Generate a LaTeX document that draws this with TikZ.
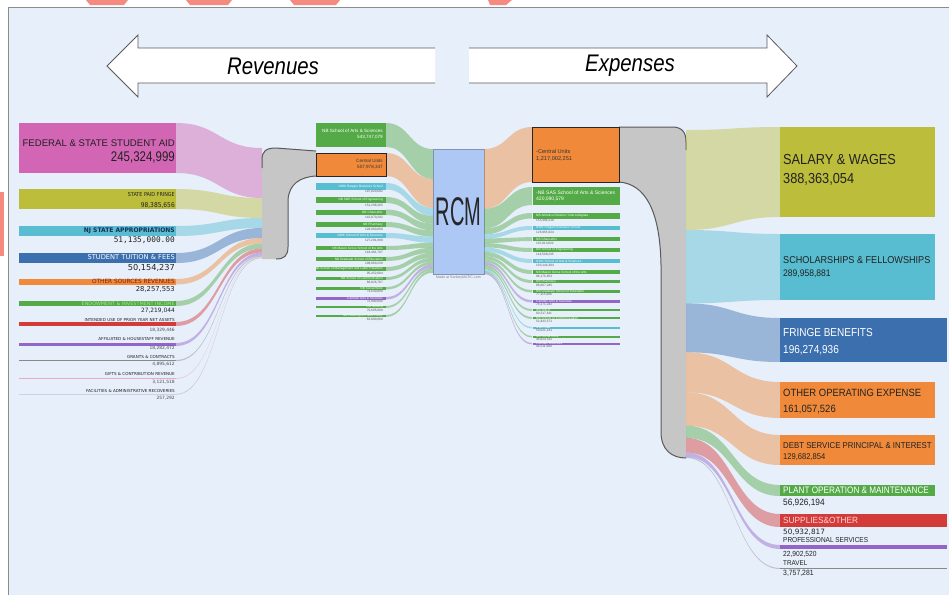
\documentclass[tikz,border=0pt]{standalone}
\usepackage{fontspec}
\setmainfont{Liberation Sans}
\newfontfamily\dejavu{DejaVu Sans}
\newfontfamily\dejavumono{DejaVu Sans Mono}
\newcommand{\myfs}[1]{\fontsize{#1}{#1}\selectfont}
% flow band: x1, y1top, y1bot, x2, y2top, y2bot, colour
\newcommand{\sflow}[7]{\fill[#7, fill opacity=.45] (#1,#2) .. controls ({(#1+#4)/2},#2) and ({(#1+#4)/2},#5) .. (#4,#5) -- (#4,#6) .. controls ({(#1+#4)/2},#6) and ({(#1+#4)/2},#3) .. (#1,#3) -- cycle;}
\definecolor{panel}{HTML}{E7EFFB}
\definecolor{cmag}{HTML}{D265B4}
\definecolor{colive}{HTML}{BDBD3C}
\definecolor{cteal}{HTML}{58BDD0}
\definecolor{cblue}{HTML}{3B6FAE}
\definecolor{corange}{HTML}{F08A3A}
\definecolor{cgreen}{HTML}{54AA47}
\definecolor{cred}{HTML}{D23B37}
\definecolor{cpurple}{HTML}{9365C8}
\definecolor{cgrey}{HTML}{8A8A8A}
\definecolor{cpink}{HTML}{E7A9CB}
\definecolor{cfaint}{HTML}{C9D3E6}
\definecolor{gnode}{HTML}{C6C6C6}
\definecolor{gedge}{HTML}{5A5A5A}
\definecolor{rcmfill}{HTML}{AEC8F5}
\definecolor{rcmedge}{HTML}{7F93B3}
\definecolor{wmark}{HTML}{F58A80}
\definecolor{darktxt}{HTML}{222222}
\begin{document}
\begin{tikzpicture}[x=1pt,y=-1pt,
  lbl/.style={inner sep=0pt, text=darktxt},
  bigarrow/.style={draw=gedge, line width=0.8pt, line join=miter},
  tinyw/.style={inner sep=0pt, text=white, font=\myfs{3.2}},
  tinyd/.style={inner sep=0pt, text=black!65, font=\myfs{3.2}}]
\useasboundingbox (0,0) rectangle (949,595);
% background panel
\fill[white] (0,0) rectangle (949,595);
\fill[panel] (8,7) rectangle (949,595);
\draw[black!45, line width=0.8pt] (8,595) -- (8,7) -- (949,7);
% stray marks at the edges
\fill[wmark] (86,0) -- (128,0) -- (124,5) -- (90,5) -- cycle;
\fill[wmark] (186,0) -- (232,0) -- (228,5) -- (190,5) -- cycle;
\fill[wmark] (290,0) -- (340,0) -- (336,5) -- (294,5) -- cycle;
\fill[wmark] (488,0) -- (512,0) -- (506,5) -- (490,5) -- cycle;
\fill[wmark] (0,192) rectangle (4,256);

% ---------- top arrows ----------
\fill[white] (435,48) -- (138,48) -- (138,35) -- (107,66) -- (138,97) -- (138,83) -- (435,83) -- cycle;
\draw[bigarrow] (435,48) -- (138,48) -- (138,35) -- (107,66) -- (138,97) -- (138,83) -- (435,83);
\fill[white] (469,48) -- (767,48) -- (767,35) -- (797,66) -- (767,97) -- (767,83) -- (469,83) -- cycle;
\draw[bigarrow] (469,48) -- (767,48) -- (767,35) -- (797,66) -- (767,97) -- (767,83) -- (469,83);
\node[lbl, text=black, font=\itshape\myfs{24}] (rev) at (273,66) {\scalebox{0.85}[1]{Revenues}};
\node[lbl, text=black, font=\itshape\myfs{24}] (exp) at (630,66) {\scalebox{0.85}[1]{Expenses}};

% ---------- left flows into grey node ----------
\sflow{176}{123}{173}{262}{148}{198}{cmag}
\sflow{176}{189}{209}{262}{198}{218}{colive}
\sflow{176}{226}{236}{262}{218}{228}{cteal}
\sflow{176}{253}{263}{262}{228}{238}{cblue}
\sflow{176}{279}{284.5}{262}{238}{243.5}{corange}
\sflow{176}{301}{306}{262}{243.5}{248.5}{cgreen}
\sflow{176}{322}{326}{262}{248.5}{252.5}{cred}
\sflow{176}{343}{346}{262}{252.5}{255.5}{cpurple}
\sflow{176}{360}{361.2}{262}{255.5}{256.7}{cgrey}
\sflow{176}{378}{379}{262}{256.7}{257.5}{cpink}
\sflow{176}{394}{394.6}{262}{257.5}{258.1}{cgrey}

% left boxes
\fill[cmag] (19,123) rectangle (176,173);
\fill[colive] (19,189) rectangle (176,209);
\fill[cteal] (19,226) rectangle (176,236);
\fill[cblue] (19,253) rectangle (176,263);
\fill[corange] (19,279) rectangle (176,284.5);
\fill[cgreen] (19,301) rectangle (176,306);
\fill[cred] (19,322) rectangle (176,326);
\fill[cpurple] (19,343) rectangle (176,346);
\fill[cgrey] (19,360) rectangle (176,361.2);
\fill[cpink] (19,378) rectangle (176,379);
\fill[cfaint] (19,394) rectangle (176,394.6);

% left labels
\node[lbl, anchor=east, font=\myfs{9.6}] (l1a) at (175,143) {FEDERAL \& STATE STUDENT AID};
\node[lbl, anchor=east, font=\myfs{14}] (l1b) at (175,158) {\scalebox{0.82}[1]{245,324,999}};
\node[lbl, anchor=east, font=\dejavu\myfs{5.4}] (l2a) at (175,195) {\scalebox{0.9}[1]{STATE PAID FRINGE}};
\node[lbl, anchor=east, font=\dejavu\myfs{6.6}] (l2b) at (175,205) {\scalebox{0.9}[1]{98,385,656}};
\node[lbl, anchor=east, text={rgb,255:red,25;green,45;blue,90}, font=\dejavu\bfseries\myfs{6.3}] (l3a) at (175,231) {\scalebox{0.95}[1]{NJ STATE APPROPRIATIONS}};
\node[lbl, anchor=east, font=\dejavumono\myfs{7.8}] (l3b) at (175,240.5) {51,135,000.00};
\node[lbl, anchor=east, text=white, font=\dejavu\myfs{6.7}] (l4a) at (175,257.5) {STUDENT TUITION \& FEES};
\node[lbl, anchor=east, font=\dejavu\myfs{8.2}] (l4b) at (175,267.5) {50,154,237};
\node[lbl, anchor=east, text={rgb,255:red,120;green,30;blue,10}, font=\dejavu\myfs{5.8}] (l5a) at (175,281.7) {OTHER SOURCES REVENUES};
\node[lbl, anchor=east, font=\dejavu\myfs{6.8}] (l5b) at (175,289.5) {28,257,553};
\node[lbl, anchor=east, text={rgb,255:red,170;green,225;blue,150}, font=\dejavu\myfs{4.9}] (l6a) at (175,303.5) {ENDOWMENT \& INVESTMENT INCOME};
\node[lbl, anchor=east, font=\dejavu\myfs{5.9}] (l6b) at (175,310.5) {27,219,044};
\node[lbl, anchor=east, font=\dejavu\myfs{4.1}] (l7a) at (175,319.5) {INTENDED USE OF PRIOR YEAR NET ASSETS};
\node[lbl, anchor=east, text=black!70, font=\dejavu\myfs{4.4}] (l7b) at (175,330) {18,329,446};
\node[lbl, anchor=east, font=\dejavu\myfs{4.1}] (l8a) at (175,339) {AFFILIATED \& HOUSESTAFF REVENUE};
\node[lbl, anchor=east, text=black!70, font=\dejavu\myfs{4.4}] (l8b) at (175,348.5) {18,282,472};
\node[lbl, anchor=east, font=\dejavu\myfs{4.1}] (l9a) at (175,356.5) {GRANTS \& CONTRACTS};
\node[lbl, anchor=east, text=black!70, font=\dejavu\myfs{4.4}] (l9b) at (175,364.5) {4,895,612};
\node[lbl, anchor=east, font=\dejavu\myfs{4.1}] (l10a) at (175,374) {GIFTS \& CONTRIBUTION REVENUE};
\node[lbl, anchor=east, text=black!70, font=\dejavu\myfs{4.4}] (l10b) at (175,382) {3,121,518};
\node[lbl, anchor=east, font=\dejavu\myfs{4.1}] (l11a) at (175,391) {FACILITIES \& ADMINISTRATIVE RECOVERIES};
\node[lbl, anchor=east, text=black!70, font=\dejavu\myfs{4.4}] (l11b) at (175,398.5) {257,292};

% ---------- left grey node ----------
\fill[gnode] (262,259) -- (262,160) .. controls (262,151) and (266,148) .. (276,148) -- (316,151) -- (316,176) .. controls (300,177) and (289,184) .. (288,200) -- (288,247) .. controls (288,256) and (284,259) .. (276,259) -- cycle;
\draw[gedge, line width=1pt] (262,168) -- (262,160) .. controls (262,151) and (266,148) .. (276,148) -- (316,151);
\draw[gedge, line width=1pt] (316,176) .. controls (300,177) and (289,184) .. (288,200) -- (288,247) .. controls (288,256) and (284,259) .. (276,259);

% ---------- middle-left flows into RCM ----------
\sflow{386}{123}{147}{433}{149}{179}{cgreen}
\sflow{386}{153}{176}{433}{179}{207.8}{corange}
\sflow{386}{183}{189.5}{433}{207.8}{215.9}{cteal}
\sflow{386}{197}{203}{433}{215.9}{223.4}{cgreen}
\sflow{386}{209.5}{215}{433}{223.4}{230.3}{cgreen}
\sflow{386}{222}{227}{433}{230.3}{236.5}{cgreen}
\sflow{386}{233}{238}{433}{236.5}{242.8}{cteal}
\sflow{386}{246}{250}{433}{242.8}{247.8}{cgreen}
\sflow{386}{257}{261}{433}{247.8}{252.8}{cgreen}
\sflow{386}{267}{271}{433}{252.8}{257.8}{cgreen}
\sflow{386}{277}{280}{433}{257.8}{261.5}{cgreen}
\sflow{386}{287}{289.5}{433}{261.5}{264.6}{cgreen}
\sflow{386}{297}{299.5}{433}{264.6}{267.7}{cpurple}
\sflow{386}{306}{308}{433}{267.7}{270.2}{cgreen}
\sflow{386}{315}{317}{433}{270.2}{272.7}{cgreen}

% middle-left boxes
\fill[cgreen] (316,123) rectangle (386,147);
\node[lbl, anchor=east, text=white, font=\myfs{4.6}] (m1a) at (383,131) {NB School of Arts \& Sciences};
\node[lbl, anchor=east, text=white, font=\myfs{4.6}] (m1b) at (383,137) {543,747,079};
\filldraw[fill=corange, draw=black!85, line width=0.9pt] (316,153) rectangle (386,176);
\node[lbl, anchor=east, text=black!80, font=\myfs{4.6}] (m2a) at (383,161) {Central Units};
\node[lbl, anchor=east, text=black!80, font=\myfs{4.6}] (m2b) at (383,167) {507,978,347};
\foreach \c/\a/\b/\t/\v [count=\i] in {
  cteal/183/189.5/{NWK Rutgers Business School}/{197,820,692},
  cgreen/197/203/{NB SOE School of Engineering}/{151,298,305},
  cgreen/209.5/215/{NB Chancellor}/{142,870,292},
  cgreen/222/227/{NB Pharmacy}/{128,060,000},
  cteal/233/238/{NWK School of Arts \& Sciences}/{127,201,099},
  cgreen/246/250/{NB Mason Gross School of the Arts}/{118,481,797},
  cgreen/257/261/{NB Graduate School of Education}/{108,860,230},
  cgreen/267/271/{NB School of Management and Labor Relations}/{95,452,684},
  cgreen/277/280/{NB School of Communication}/{86,826,787},
  cgreen/287/289.5/{NB Social Work}/{73,630,000},
  cpurple/297/299.5/{Camden Arts \& Sciences}/{72,990,000},
  cgreen/306/308/{NB Nursing}/{70,605,000},
  cgreen/315/317/{NB Planning \& Public Policy}/{63,880,000}}{
  \fill[\c] (316,\a) rectangle (386,\b);
  \node[tinyw, anchor=east] (mla\i) at (383,{(\a+\b)/2}) {\t};
  \node[tinyd, anchor=north east] (mlb\i) at (383,{\b+1}) {\v};
}

% ---------- RCM ----------
\node[draw=rcmedge, fill=rcmfill, line width=0.8pt, minimum width=51pt, minimum height=125pt, inner sep=0pt, anchor=north west] (rcm) at (433,149) {};
\node[lbl, text=black!85, font=\myfs{40}] (rcmt) at (458.5,212) {\scalebox{0.5}[1]{RCM}};
\node[lbl, text=black!50, font=\myfs{3.6}] (made) at (458.5,278) {Made at SankeyMATIC.com};

% ---------- RCM to right-middle ----------
\sflow{484}{149}{208.8}{532}{127}{182}{corange}
\sflow{484}{208.8}{228.4}{532}{187}{205}{cgreen}
\sflow{484}{228.4}{234.4}{532}{213}{218.5}{cgreen}
\sflow{484}{234.4}{238.7}{532}{226}{230}{cteal}
\sflow{484}{238.7}{243.1}{532}{237}{241}{cgreen}
\sflow{484}{243.1}{247.4}{532}{248}{252}{cgreen}
\sflow{484}{247.4}{251.8}{532}{259}{263}{cteal}
\sflow{484}{251.8}{256.1}{532}{270}{274}{cgreen}
\sflow{484}{256.1}{259.4}{532}{280}{283}{cgreen}
\sflow{484}{259.4}{262.1}{532}{290}{292.5}{cgreen}
\sflow{484}{262.1}{264.8}{532}{300}{302.5}{cpurple}
\sflow{484}{264.8}{267}{532}{309}{311}{cgreen}
\sflow{484}{267}{269.2}{532}{317}{319}{cgreen}
\sflow{484}{269.2}{270.8}{532}{327}{328.5}{cteal}
\sflow{484}{270.8}{272.4}{532}{336}{337.5}{cgreen}
\sflow{484}{272.4}{274}{532}{343}{344.5}{cpurple}

% ---------- right grey node ----------
\fill[gnode] (619,127) -- (672,127) .. controls (682,127) and (686,132) .. (686,142) -- (686,458) .. controls (672,458) and (661,450) .. (661,432) -- (661,265) .. controls (660,210) and (645,184) .. (619,182) -- cycle;
\draw[gedge, line width=1pt] (619,127) -- (672,127) .. controls (682,127) and (686,132) .. (686,142) -- (686,150);
\draw[gedge, line width=1pt] (619,182) .. controls (645,184) and (660,210) .. (661,265) -- (661,432) .. controls (661,450) and (672,458) .. (686,458);

% right-middle boxes
\filldraw[fill=corange, draw=black!85, line width=0.9pt] (532,127) rectangle (619,182);
\node[lbl, anchor=west, text=black!80, font=\myfs{5.6}] (r1a) at (536,151.5) {-Central Units};
\node[lbl, anchor=west, text=black!80, font=\myfs{5.6}] (r1b) at (536,158.5) {1,217,002,251};
\fill[cgreen] (533,187) rectangle (620,205);
\node[lbl, anchor=west, text=white, font=\myfs{5}] (r2a) at (536,192.5) {-NB SAS School of Arts \& Sciences};
\node[lbl, anchor=west, text=white, font=\myfs{5}] (r2b) at (536,199) {420,090,579};
\foreach \c/\a/\b/\t/\v [count=\i] in {
  cgreen/213/218.5/{NB Athletics Division / Intercollegiate}/{155,486,218},
  cteal/226/230/{NWK Rutgers Business School}/{126,965,624},
  cgreen/237/241/{NB Chancellor}/{115,813,022},
  cgreen/248/252/{NB School of Engineering}/{114,508,235},
  cteal/259/263/{NWK School of Arts \& Sciences}/{103,144,384},
  cgreen/270/274/{NB Mason Gross School of the Arts}/{96,176,853},
  cgreen/280/283/{NB Pharmacy}/{88,667,245},
  cgreen/290/292.5/{NB Graduate School of Education}/{77,115,686},
  cpurple/300/302.5/{Camden Arts \& Sciences}/{74,171,242},
  cgreen/309/311/{NB SMLR}/{60,217,611},
  cgreen/317/319/{NB School of Communication}/{52,433,571},
  cteal/327/328.5/{NWK Law}/{50,021,141},
  cgreen/336/337.5/{NB Social Work}/{48,624,512},
  cpurple/343/344.5/{Camden Business}/{44,511,000}}{
  \fill[\c] (533,\a) rectangle (620,\b);
  \node[tinyw, anchor=west] (mra\i) at (536,{(\a+\b)/2}) {\t};
  \node[tinyd, anchor=north west] (mrb\i) at (536,{\b+0.8}) {\v};
}

% ---------- right flows ----------
\sflow{686}{130}{230}{780}{127}{217}{colive}
\sflow{686}{230}{303.4}{780}{234}{300}{cteal}
\sflow{686}{303.4}{352.3}{780}{318}{362}{cblue}
\sflow{686}{352.3}{392.3}{780}{382}{418}{corange}
\sflow{686}{392.3}{425.7}{780}{435}{465}{corange}
\sflow{686}{425.7}{437.9}{780}{485}{496}{cgreen}
\sflow{686}{437.9}{452.4}{780}{514}{527}{cred}
\sflow{686}{452.4}{456.8}{780}{545}{549}{cpurple}
\sflow{686}{456.8}{457.9}{780}{568}{569}{cgrey}

% right boxes
\fill[colive] (780,127) rectangle (935,217);
\fill[cteal] (780,234) rectangle (935,300);
\fill[cblue] (780,318) rectangle (947,362);
\fill[corange] (780,382) rectangle (935,418);
\fill[corange] (780,435) rectangle (935,465);
\fill[cgreen] (780,485) rectangle (935,496);
\fill[cred] (780,514) rectangle (947,527);
\fill[cpurple] (780,545) rectangle (947,549);
\fill[cgrey] (780,568) rectangle (947,569);

% right labels
\node[lbl, anchor=west, font=\myfs{14.5}] (e1a) at (783,160) {\scalebox{0.88}[1]{SALARY \& WAGES}};
\node[lbl, anchor=west, font=\myfs{14.5}] (e1b) at (783,179) {\scalebox{0.88}[1]{388,363,054}};
\node[lbl, anchor=west, font=\myfs{10}] (e2a) at (783,260) {\scalebox{0.91}[1]{SCHOLARSHIPS \& FELLOWSHIPS}};
\node[lbl, anchor=west, font=\myfs{9.5}] (e2b) at (783,274) {\scalebox{0.9}[1]{289,958,881}};
\node[lbl, anchor=west, text=white, font=\myfs{11.5}] (e3a) at (783,333) {\scalebox{0.87}[1]{FRINGE BENEFITS}};
\node[lbl, anchor=west, text=white, font=\myfs{11.5}] (e3b) at (783,350) {\scalebox{0.87}[1]{196,274,936}};
\node[lbl, anchor=west, font=\myfs{10.5}] (e4a) at (783,393) {\scalebox{0.9}[1]{OTHER OPERATING EXPENSE}};
\node[lbl, anchor=west, font=\myfs{10.5}] (e4b) at (783,409.5) {\scalebox{0.9}[1]{161,057,526}};
\node[lbl, anchor=west, font=\myfs{8.6}] (e5a) at (783,446) {\scalebox{0.91}[1]{DEBT SERVICE PRINCIPAL \& INTEREST}};
\node[lbl, anchor=west, font=\myfs{8.4}] (e5b) at (783,457) {\scalebox{0.9}[1]{129,682,854}};
\node[lbl, anchor=west, text=white, font=\myfs{9.4}] (e6a) at (783,490.5) {\scalebox{0.87}[1]{PLANT OPERATION \& MAINTENANCE}};
\node[lbl, anchor=west, font=\myfs{9.2}] (e6b) at (783,503) {\scalebox{0.9}[1]{56,926,194}};
\node[lbl, anchor=west, text={rgb,255:red,255;green,215;blue,215}, font=\myfs{9}] (e7a) at (783,520.5) {\scalebox{0.92}[1]{SUPPLIES\&OTHER}};
\node[lbl, anchor=west, font=\dejavu\myfs{7.3}] (e7b) at (783,532) {50,932,817};
\node[lbl, anchor=west, font=\myfs{7.2}] (e8a) at (783,540.5) {\scalebox{0.9}[1]{PROFESSIONAL SERVICES}};
\node[lbl, anchor=west, font=\myfs{7.4}] (e8b) at (783,554) {\scalebox{0.9}[1]{22,902,520}};
\node[lbl, anchor=west, font=\myfs{7}] (e9a) at (783,563) {\scalebox{0.9}[1]{TRAVEL}};
\node[lbl, anchor=west, font=\myfs{7.6}] (e9b) at (783,573.5) {\scalebox{0.9}[1]{3,757,281}};
\end{tikzpicture}
\end{document}
